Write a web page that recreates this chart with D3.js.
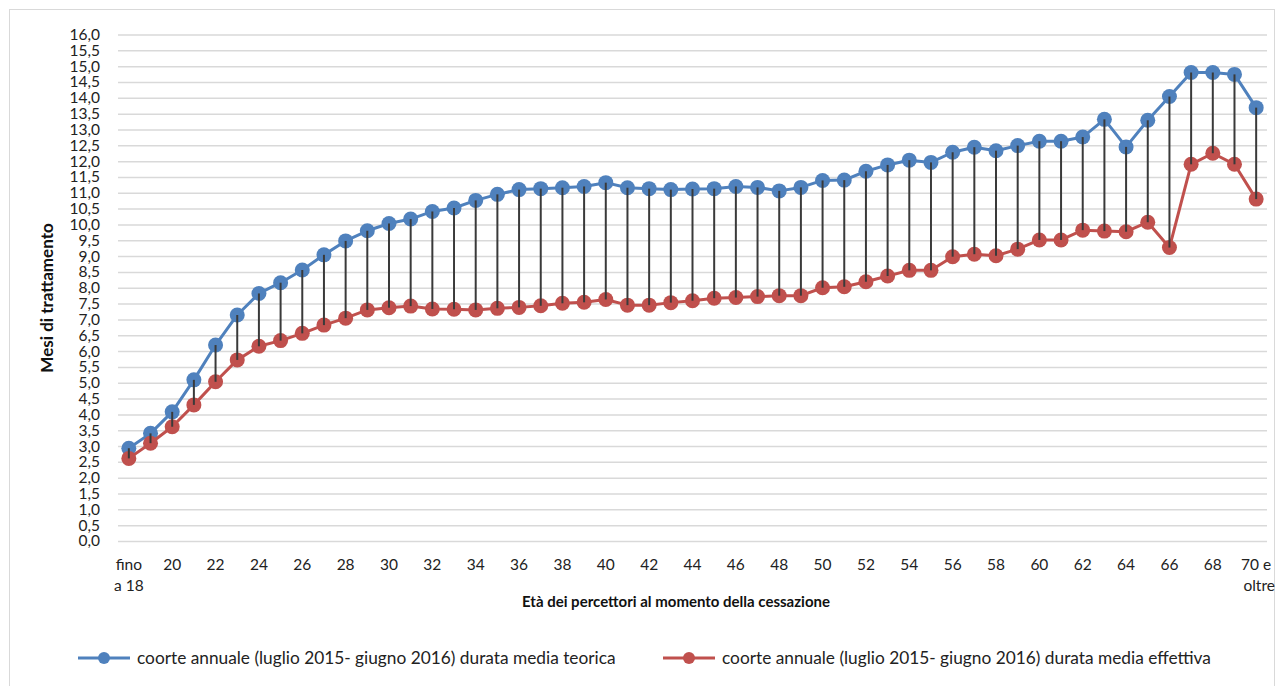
<!DOCTYPE html>
<html>
<head>
<meta charset="utf-8">
<script src="https://cdn.jsdelivr.net/npm/d3@7"></script>
<style>
  body { margin: 0; background: #fff; }
  svg { display: block; font-family: Lato, "Open Sans", sans-serif; }
</style>
</head>
<body>
<svg id="chart" width="1281" height="686"></svg>
<script>
"use strict";

// età dei percettori (categorie asse x)
const ages = ["fino a 18"].concat(d3.range(19, 70).map(String), ["70 e oltre"]);

// durata media teorica (mesi)
const teorica = [
  2.93, 3.40, 4.08, 5.09, 6.19, 7.14, 7.82, 8.16, 8.56, 9.04,
  9.48, 9.80, 10.03, 10.17, 10.41, 10.52, 10.76, 10.95, 11.10, 11.13,
  11.16, 11.20, 11.32, 11.16, 11.13, 11.10, 11.12, 11.13, 11.20, 11.17,
  11.06, 11.17, 11.39, 11.40, 11.68, 11.88, 12.03, 11.96, 12.28, 12.44,
  12.33, 12.49, 12.63, 12.63, 12.76, 13.32, 12.45, 13.29, 14.04, 14.80,
  14.80, 14.74, 13.69
];

// durata media effettiva (mesi)
const effettiva = [
  2.61, 3.09, 3.61, 4.30, 5.03, 5.72, 6.15, 6.33, 6.56, 6.82,
  7.04, 7.30, 7.37, 7.42, 7.33, 7.32, 7.30, 7.35, 7.38, 7.43,
  7.51, 7.54, 7.63, 7.45, 7.45, 7.53, 7.59, 7.67, 7.69, 7.72,
  7.75, 7.75, 8.00, 8.03, 8.19, 8.37, 8.55, 8.55, 8.98, 9.06,
  9.01, 9.22, 9.51, 9.51, 9.82, 9.79, 9.77, 10.07, 9.27, 11.90,
  12.25, 11.90, 10.80
];

const yTicks = d3.range(0, 16.01, 0.5);

const seriesNames = [
  "coorte annuale (luglio 2015- giugno 2016) durata media teorica",
  "coorte annuale (luglio 2015- giugno 2016) durata media effettiva"
];
const colors = ["#4F81BD", "#C0504D"];

const svg = d3.select("#chart");
const plotL = 118, plotR = 1267, plotT = 34.5, plotB = 541;

const x = d3.scaleBand().domain(ages).range([plotL, plotR]).padding(0);
const cx = d => x(d) + x.bandwidth() / 2;
const y = d3.scaleLinear().domain([0, 16]).range([plotB, plotT]);

const it = d3.formatLocale({ decimal: ",", thousands: ".", grouping: [3], currency: ["€", ""] });
const fmt = it.format(".1f");

// cornice
svg.append("rect")
  .attr("x", 9.5).attr("y", 9.5).attr("width", 1265).attr("height", 690)
  .attr("fill", "none").attr("stroke", "#d9d9d9");

// griglia + etichette y
const yAxis = svg.append("g").attr("transform", `translate(${plotL},0)`)
  .call(d3.axisLeft(y).tickValues(yTicks).tickFormat(fmt).tickSize(-(plotR - plotL)).tickPadding(18));
yAxis.select(".domain").remove();
yAxis.selectAll(".tick line").attr("stroke", "#d9d9d9").attr("stroke-width", 1.5);
yAxis.selectAll(".tick text").attr("fill", "#222").style("font-size", "15.5px").style("font-family", "Lato");

// etichette x (una ogni due)
const xLab = svg.append("g");
ages.forEach((a, i) => {
  if (i % 2 !== 0) return;
  const parts = a === "fino a 18" ? ["fino", "a 18"] : a === "70 e oltre" ? ["70 e", "oltre"] : [a];
  const t = xLab.append("text")
    .attr("x", cx(a)).attr("y", 570)
    .attr("text-anchor", "middle")
    .attr("fill", "#222").style("font-size", "15.5px");
  parts.forEach((p, j) => {
    t.append("tspan").attr("x", cx(a) + (p === "oltre" ? 3 : 0)).attr("dy", j === 0 ? 0 : 21).text(p);
  });
});

// titoli assi
svg.append("text")
  .attr("x", 676).attr("y", 607)
  .attr("text-anchor", "middle")
  .style("font-size", "15px").style("font-weight", "bold").attr("fill", "#111")
  .text("Età dei percettori al momento della cessazione");

svg.append("text")
  .attr("transform", "translate(53,298) rotate(-90)")
  .attr("text-anchor", "middle")
  .style("font-size", "17px").style("font-weight", "bold").attr("fill", "#111")
  .text("Mesi di trattamento");

// linee delle serie
const line = d3.line().x((d, i) => cx(ages[i])).y(d => y(d));
[teorica, effettiva].forEach((s, k) => {
  svg.append("path")
    .attr("d", line(s))
    .attr("fill", "none")
    .attr("stroke", colors[k])
    .attr("stroke-width", 3)
    .attr("stroke-linejoin", "round");
  svg.append("g").selectAll("circle")
    .data(s)
    .join("circle")
    .attr("cx", (d, i) => cx(ages[i]))
    .attr("cy", d => y(d))
    .attr("r", 7.5)
    .attr("fill", colors[k]);
});

// linee massimo-minimo
svg.append("g").selectAll("line")
  .data(ages)
  .join("line")
  .attr("x1", d => cx(d)).attr("x2", d => cx(d))
  .attr("y1", (d, i) => y(teorica[i]))
  .attr("y2", (d, i) => y(effettiva[i]))
  .attr("stroke", "#3a3a3a")
  .attr("stroke-width", 2);

// legenda
const legX = [78, 663];
seriesNames.forEach((n, k) => {
  const g = svg.append("g").attr("transform", `translate(${legX[k]},658)`);
  g.append("line").attr("x1", 0).attr("x2", 52).attr("stroke", colors[k]).attr("stroke-width", 3);
  g.append("circle").attr("cx", 26).attr("r", 6).attr("fill", colors[k]);
  g.append("text").attr("x", 59).attr("dy", "0.35em")
    .style("font-size", "17.3px").attr("fill", "#222").text(n);
});
</script>
</body>
</html>
